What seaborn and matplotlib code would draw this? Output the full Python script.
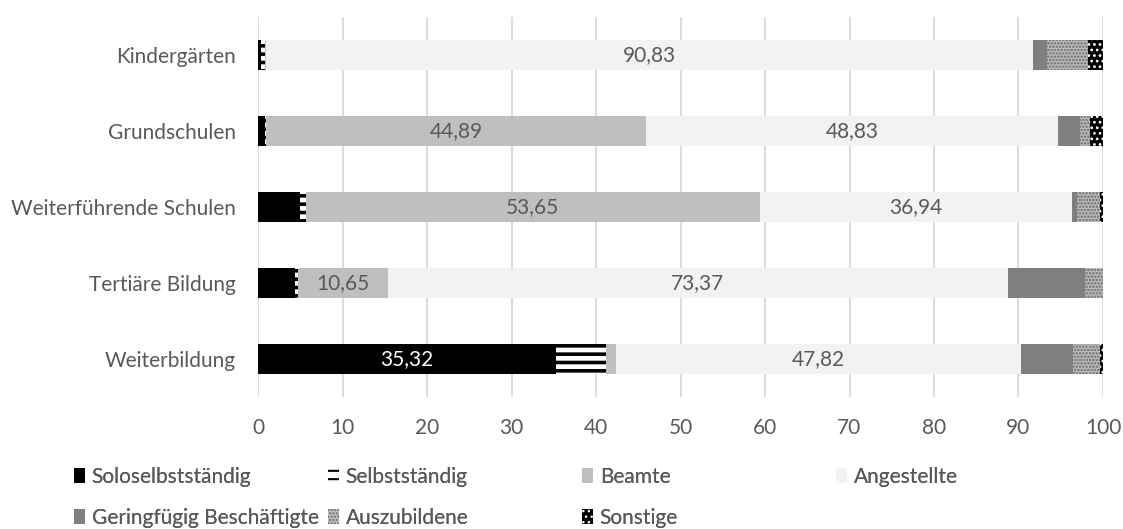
import matplotlib
matplotlib.use("Agg")
import numpy as np
import pandas as pd
import seaborn as sns
import matplotlib.pyplot as plt
from matplotlib.patches import Rectangle

# Daten (Anteile in %)
kategorien = ["Kindergärten", "Grundschulen", "Weiterführende Schulen", "Tertiäre Bildung", "Weiterbildung"]
serien = ["Soloselbstständig", "Selbstständig", "Beamte", "Angestellte",
          "Geringfügig Beschäftigte", "Auszubildene", "Sonstige"]

soloselbststaendig = [0.4, 0.8, 5.0, 4.4, 35.32]
selbststaendig = [0.4, 0.2, 0.7, 0.3, 5.9]
beamte = [0.1, 44.89, 53.65, 10.65, 1.2]
angestellte = [90.83, 48.83, 36.94, 73.37, 47.82]
geringfuegig = [1.6, 2.5, 0.6, 9.1, 6.2]
auszubildende = [4.9, 1.2, 2.7, 2.18, 3.2]
sonstige = [1.77, 1.58, 0.41, 0.0, 0.36]

werte = [soloselbststaendig, selbststaendig, beamte, angestellte,
         geringfuegig, auszubildende, sonstige]

# Stil je Reihe: Füllfarbe, Schraffur, Schraffurfarbe
stile = [
    ("#000000", None, "#000000"),
    ("#ffffff", "--", "#000000"),
    ("#bfbfbf", None, "#bfbfbf"),
    ("#f2f2f2", None, "#f2f2f2"),
    ("#7f7f7f", None, "#7f7f7f"),
    ("#bcbcbc", ".....", "#6a6a6a"),
    ("#000000", "...", "#ffffff"),
]

df = pd.DataFrame(dict(zip(serien, werte)), index=kategorien)
kum = df.cumsum(axis=1)

sns.set_style("white")
plt.rcParams["font.family"] = ["Lato", "DejaVu Sans"]

fig = plt.figure(figsize=(11.23, 5.29), dpi=100)
ax = fig.add_axes([258 / 1123, 1 - 397 / 529, 845 / 1123, 380 / 529])

grau = "#595959"
fs = 15

# gestapelte Balken: kumulierte Summen von hinten nach vorne zeichnen
for i in range(len(serien) - 1, -1, -1):
    farbe, hatch, hcol = stile[i]
    plt.rcParams["hatch.linewidth"] = 2.6 if i == 1 else 1.2
    sns.barplot(x=kum[serien[i]].values, y=kategorien, orient="h", ax=ax,
                color=farbe, saturation=1, width=0.4, hatch=hatch,
                edgecolor=hcol, linewidth=0, zorder=3)

# Datenbeschriftungen für große Segmente
for j, kat in enumerate(kategorien):
    links = 0
    for i, s in enumerate(serien):
        v = df.loc[kat, s]
        if v > 10:
            txt = f"{v:.2f}".replace(".", ",")
            ax.text(links + v / 2, j, txt, ha="center", va="center", fontsize=fs,
                    color="white" if i == 0 else grau, zorder=5)
        links += v

ax.set_xlim(0, 100)
ax.set_ylim(4.5, -0.5)
ax.set_xticks(np.arange(0, 101, 10))
ax.grid(axis="x", color="#d9d9d9", linewidth=1.3, zorder=0)
ax.grid(axis="y", visible=False)
ax.set_axisbelow(True)
for sp in ax.spines.values():
    sp.set_visible(False)
ax.tick_params(axis="x", length=0, pad=15, labelsize=fs, labelcolor=grau)
ax.tick_params(axis="y", length=0, pad=16, labelsize=fs, labelcolor=grau)
ax.set_xlabel("")
ax.set_ylabel("")

# Legende: zwei Zeilen, vier Spalten
zeilen_y = [1 - 477 / 529, 1 - 518 / 529]
for i, s in enumerate(serien):
    farbe, hatch, hcol = stile[i]
    plt.rcParams["hatch.linewidth"] = 1.5 if i == 1 else 1.0
    h = Rectangle((0, 0), 1, 1, facecolor=farbe, hatch=hatch, edgecolor=hcol, linewidth=0)
    x = (74 + (i % 4) * 254) / 1123
    leg = fig.legend(handles=[h], labels=[s], loc="center left",
                     bbox_to_anchor=(x, zeilen_y[i // 4]), frameon=False,
                     handlelength=0.55, handleheight=0.7, handletextpad=0.3,
                     borderpad=0, borderaxespad=0, fontsize=fs, labelcolor=grau)
    fig.add_artist(leg)

fig.savefig("out.png", dpi=100)
